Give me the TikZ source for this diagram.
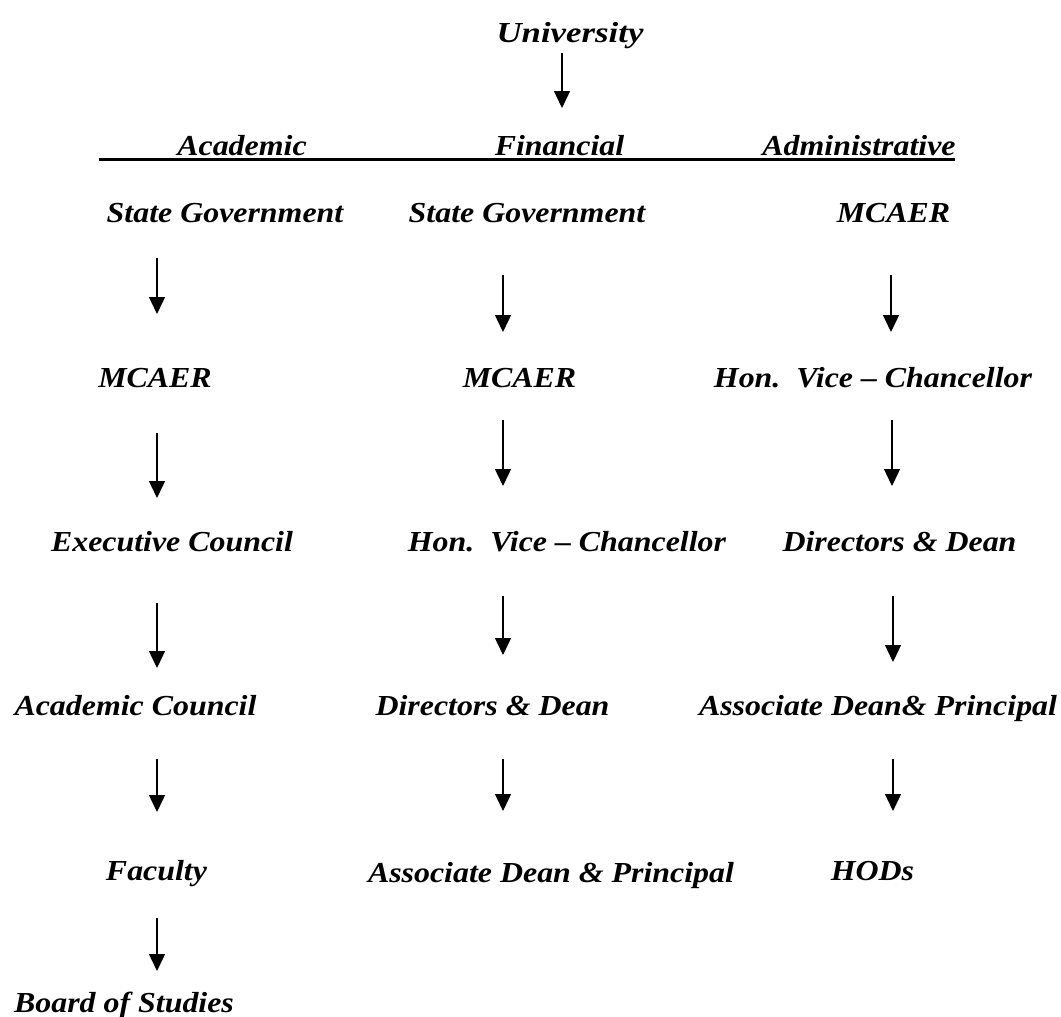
\documentclass[tikz,border=0pt]{standalone}
\usepackage{fontspec}
\setmainfont{Liberation Serif}
\usetikzlibrary{arrows.meta}
\newcommand\wtxt[1]{\scalebox{1.10}[1]{#1}}
\newcommand\wtitle[1]{\scalebox{1.20}[1]{#1}}
\begin{document}
\begin{tikzpicture}[x=1pt,y=-1pt,
  lab/.style={anchor=base, inner sep=0pt, font=\fontsize{29}{32}\selectfont\bfseries\itshape},
  arr/.style={line width=1.4pt, -{Triangle[width=16pt,length=17pt]}},
  rule/.style={line width=3.3pt}]
\useasboundingbox (0,0) rectangle (1061,1017);
% title
\node[lab] (uni) at (570,42) {\wtitle{University}};
\coordinate (u1) at (562,53); \coordinate (u2) at (562,108);
\draw[arr] (u1) -- (u2);
% headings
\node[lab] (hA) at (242,155) {\wtxt{Academic}};
\node[lab] (hF) at (559.5,155) {\wtxt{Financial}};
\node[lab] (hM) at (859,155) {\wtxt{Administrative}};
\coordinate (r1) at (99,159.5); \coordinate (r2) at (955,159.5);
\draw[rule] (r1) -- (r2);
% Academic column
\node[lab] (a1) at (225,222) {\wtxt{State Government}};
\node[lab] (a2) at (155,387) {\wtxt{MCAER}};
\node[lab] (a3) at (172,551) {\wtxt{Executive Council}};
\node[lab] (a4) at (135.5,715) {\wtxt{Academic Council}};
\node[lab] (a5) at (156.5,880) {\wtxt{Faculty}};
\node[lab] (a6) at (124,1012) {\wtxt{Board of Studies}};
% Financial column
\node[lab] (f1) at (527,222) {\wtxt{State Government}};
\node[lab] (f2) at (519.5,387) {\wtxt{MCAER}};
\node[lab] (f3) at (567,551) {\wtxt{Hon.\ \ Vice – Chancellor}};
\node[lab] (f4) at (492.5,715) {\wtxt{Directors \& Dean}};
\node[lab] (f5) at (551,882) {\wtxt{Associate Dean \& Principal}};
% Administrative column
\node[lab] (m1) at (893.5,222) {\wtxt{MCAER}};
\node[lab] (m2) at (873,387) {\wtxt{Hon.\ \ Vice – Chancellor}};
\node[lab] (m3) at (899.5,551) {\wtxt{Directors \& Dean}};
\node[lab] (m4) at (878,715) {\wtxt{Associate Dean\& Principal}};
\node[lab] (m5) at (872.5,880) {\wtxt{HODs}};
% arrow coordinates
\coordinate (a1s) at (157,258); \coordinate (a1e) at (157,314);
\coordinate (a2s) at (157,433); \coordinate (a2e) at (157,498);
\coordinate (a3s) at (157,603); \coordinate (a3e) at (157,668);
\coordinate (a4s) at (157,759); \coordinate (a4e) at (157,812);
\coordinate (a5s) at (157,918); \coordinate (a5e) at (157,971);
\coordinate (f1s) at (503,275); \coordinate (f1e) at (503,332);
\coordinate (f2s) at (503,420); \coordinate (f2e) at (503,486);
\coordinate (f3s) at (503,596); \coordinate (f3e) at (503,655);
\coordinate (f4s) at (503,759); \coordinate (f4e) at (503,811);
\coordinate (m1s) at (891,275); \coordinate (m1e) at (891,332);
\coordinate (m2s) at (892,420); \coordinate (m2e) at (892,486);
\coordinate (m3s) at (893,596); \coordinate (m3e) at (893,662);
\coordinate (m4s) at (893,759); \coordinate (m4e) at (893,811);
\foreach \c in {a1,a2,a3,a4,a5,f1,f2,f3,f4,m1,m2,m3,m4}
  \draw[arr] (\c s) -- (\c e);
\end{tikzpicture}
\end{document}
